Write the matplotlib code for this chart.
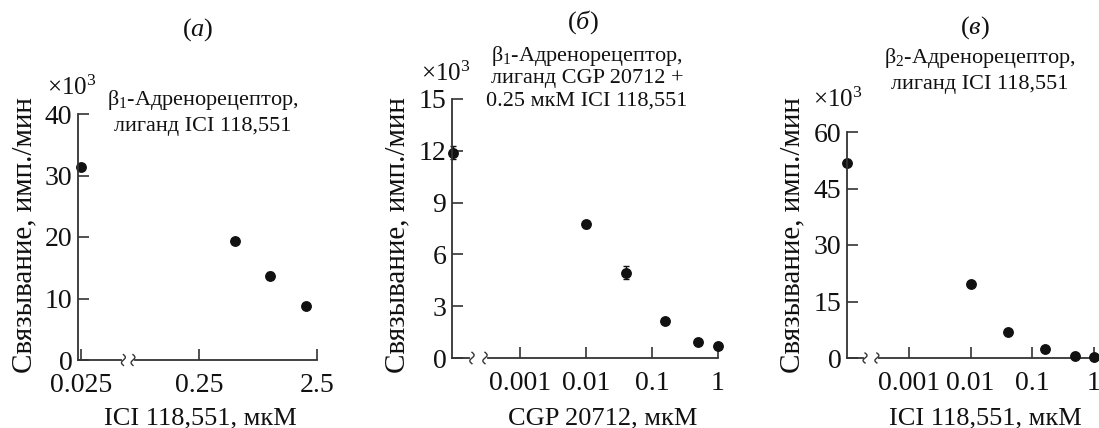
import numpy as np
import matplotlib
matplotlib.use('Agg')
import matplotlib.pyplot as plt

plt.rcParams['font.family'] = ['Liberation Serif', 'DejaVu Serif']
plt.rcParams['mathtext.fontset'] = 'custom'
plt.rcParams['mathtext.rm'] = 'Liberation Serif'
plt.rcParams['mathtext.it'] = 'Liberation Serif:italic'

# (а) beta1, ICI 118,551
a_x = [0.025, 0.5, 1.0, 2.0]
a_y = [31.4, 19.4, 13.7, 8.8]
a_err = [0.3, 0.3, 0.6, 0.3]

# (б) beta1, CGP 20712 + 0.25 мкМ ICI
b_x = [1e-4, 0.01, 0.04, 0.16, 0.5, 1.0]
b_y = [11.9, 7.75, 4.95, 2.15, 0.93, 0.72]
b_err = [0.4, 0.2, 0.35, 0.1, 0.05, 0.05]

# (в) beta2, ICI 118,551
c_x = [1e-4, 0.01, 0.04, 0.16, 0.5, 1.0]
c_y = [51.8, 19.7, 6.9, 2.4, 0.5, 0.2]
c_err = [0.5, 0.5, 0.5, 0.3, 0.2, 0.2]

W, H = 1099, 428
fig = plt.figure(figsize=(W / 100, H / 100), dpi=100)
col = '#333333'


def px(x0, y0, x1, y1):
    return [x0 / W, 1 - y1 / H, (x1 - x0) / W, (y1 - y0) / H]


def squiggle(ax, xf):
    t = np.linspace(-1, 1, 30)
    ax.plot(xf + 0.008 * np.sin(t * np.pi), t * 0.022, color=col, lw=1.0,
            transform=ax.transAxes, clip_on=False)


def setup(ax, xlim, ylim, xticks, xlabels, yticks, br):
    ax.set_xscale('log')
    ax.set_xlim(*xlim)
    ax.set_ylim(*ylim)
    for s in ['top', 'right', 'bottom']:
        ax.spines[s].set_visible(False)
    ax.spines['left'].set_color(col)
    ax.spines['left'].set_linewidth(1.3)
    # broken x axis
    ax.plot([0, br[0] - 0.01], [0, 0], color=col, lw=1.3, transform=ax.transAxes, clip_on=False)
    ax.plot([br[1] + 0.01, 1], [0, 0], color=col, lw=1.3, transform=ax.transAxes, clip_on=False)
    squiggle(ax, br[0])
    squiggle(ax, br[1])
    ax.set_xticks(xticks)
    ax.set_xticklabels(xlabels)
    ax.xaxis.set_minor_locator(matplotlib.ticker.NullLocator())
    ax.set_yticks(yticks)
    ax.tick_params(axis='both', direction='in', length=8, width=1.2, color=col,
                   labelsize=20, labelcolor='#111111')
    ax.tick_params(axis='x', pad=9)
    ax.tick_params(axis='y', pad=4)


axa = fig.add_axes(px(78, 114, 317, 360))
axa.errorbar(a_x, a_y, yerr=a_err, fmt='o', color='#111111', ms=6.8, capsize=2, elinewidth=1, clip_on=False)
setup(axa, (0.0236, 2.5), (0, 40), [0.025, 0.25, 2.5], ['0.025', '0.25', '2.5'], [0, 10, 20, 30, 40], (0.19, 0.23))

axb = fig.add_axes(px(452, 99, 718, 358))
axb.errorbar(b_x, b_y, yerr=b_err, fmt='o', color='#111111', ms=6.8, capsize=2, elinewidth=1, clip_on=False)
setup(axb, (9.5e-5, 1.0), (0, 15), [0.001, 0.01, 0.1, 1], ['0.001', '0.01', '0.1', '1'], [0, 3, 6, 9, 12, 15], (0.075, 0.124))

axc = fig.add_axes(px(847, 132, 1094, 358))
axc.errorbar(c_x, c_y, yerr=c_err, fmt='o', color='#111111', ms=6.8, capsize=2, elinewidth=1, clip_on=False)
setup(axc, (1e-4, 1.0), (0, 60), [0.001, 0.01, 0.1, 1], ['0.001', '0.01', '0.1', '1'], [0, 15, 30, 45, 60], (0.073, 0.121))


def ft(x, y, s, **kw):
    fig.text(x / W, 1 - y / H, s, ha='center', va='center', color='#111111', **kw)


ylab = 'Связывание, имп./мин'
for x in [24, 397, 792]:
    ft(x, 235, ylab, fontsize=21, rotation=90)

ft(200, 418, 'ICI 118,551, мкМ', fontsize=19)
ft(603, 418, 'CGP 20712, мкМ', fontsize=19)
ft(985, 418, 'ICI 118,551, мкМ', fontsize=19)

ft(198, 30, r'($\mathit{а}$)', fontsize=19)
ft(583, 22, r'($\mathit{б}$)', fontsize=19)
ft(975, 28, r'($\mathit{в}$)', fontsize=19)

ft(72, 88, r'×10$^3$', fontsize=18)
ft(446, 74, r'×10$^3$', fontsize=18)
ft(838, 100, r'×10$^3$', fontsize=18)

ft(203, 100, r'β$_1$-Адренорецептор,', fontsize=16)
ft(203, 127, 'лиганд ICI 118,551', fontsize=16)
ft(587, 56, r'β$_1$-Адренорецептор,', fontsize=16)
ft(587, 78, 'лиганд CGP 20712 +', fontsize=16)
ft(587, 101, '0.25 мкМ ICI 118,551', fontsize=16)
ft(980, 58, r'β$_2$-Адренорецептор,', fontsize=16)
ft(980, 84, 'лиганд ICI 118,551', fontsize=16)

fig.savefig('out.png', dpi=100)
